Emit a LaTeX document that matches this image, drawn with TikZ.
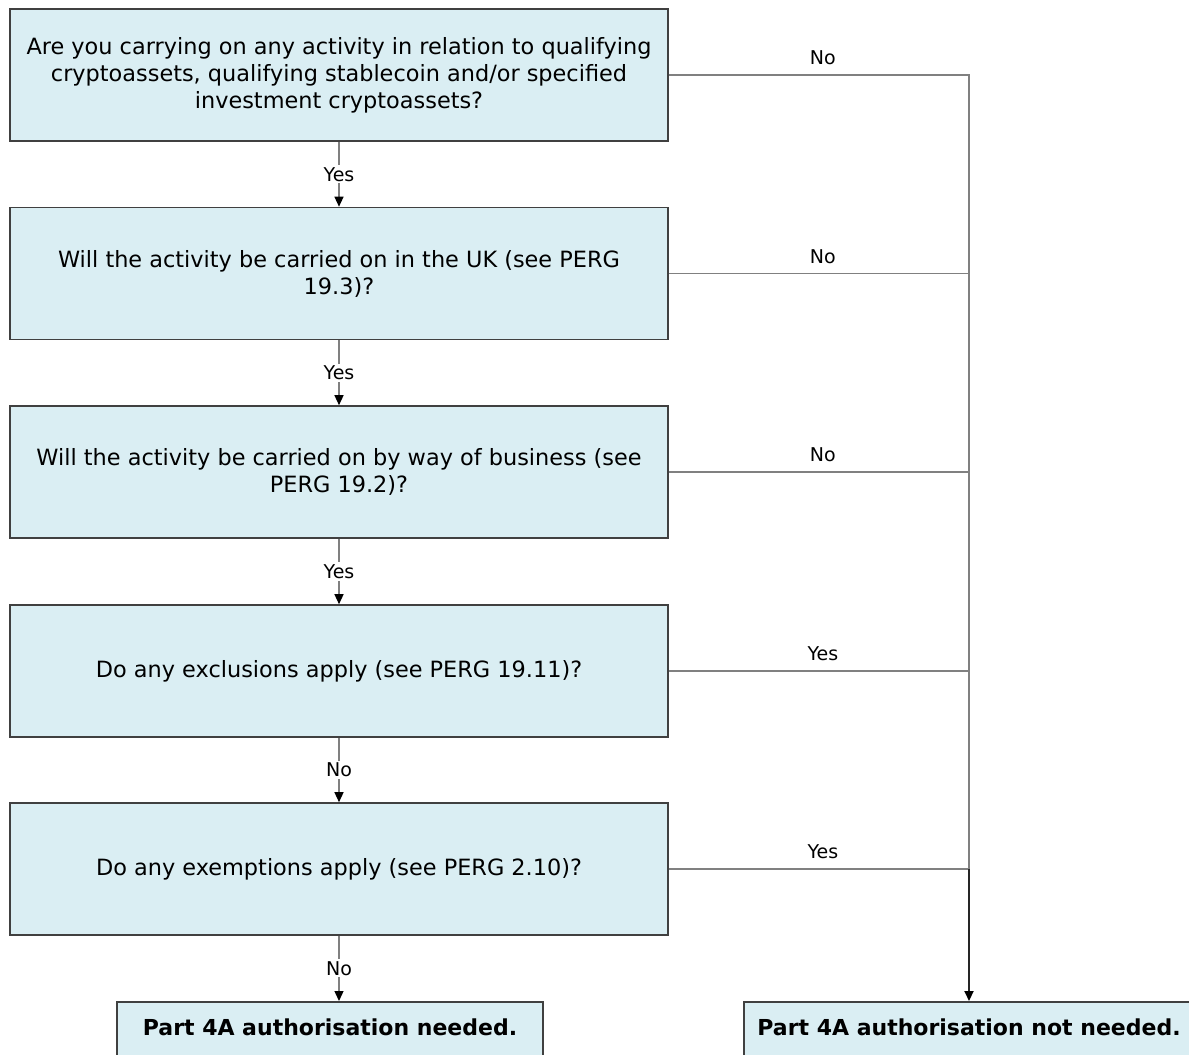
\documentclass[tikz,border=0pt]{standalone}
\usepackage{fontspec}
\setmainfont{DejaVu Sans}
\usetikzlibrary{
    arrows.meta
}
\definecolor{boxfill}{HTML}{DAEEF3}
\definecolor{boxline}{HTML}{404040}
\definecolor{linkgray}{HTML}{808080}

\begin{document}
\begin{tikzpicture}[
        x=1pt, y=-1pt,
        >={Triangle[length=10pt,width=9pt,color=black]},
        question/.style={
            rectangle,
            draw=boxline,
            fill=boxfill,
            line width=1.6pt,
            minimum width=658pt,
            minimum height=132pt,
            align=center,
            font=\fontsize{22.4}{27}\selectfont
        },
        answer/.style={
            rectangle,
            draw=boxline,
            fill=boxfill,
            line width=1.6pt,
            anchor=north,
            inner ysep=9pt,
            text height=25pt,
            text depth=45pt,
            font=\fontsize{22}{27}\selectfont\bfseries
        },
        link/.style={draw=linkgray, line width=1.3pt},
        trunk/.style={draw=black!85, line width=2pt},
        lbl/.style={font=\fontsize{19}{23}\selectfont, fill=white, inner sep=2pt}
    ]
        \path[use as bounding box] (0,0) rectangle (1189,1055);
        \clip (0,0) rectangle (1189,1055);

        % questions
        \node[question] (q1) at (339,75)
            {Are you carrying on any activity in relation to qualifying\\
             cryptoassets, qualifying stablecoin and/or specified\\
             investment cryptoassets?};
        \node[question] (q2) at (339,273.5)
            {Will the activity be carried on in the UK (see PERG\\19.3)?};
        \node[question] (q3) at (339,472)
            {Will the activity be carried on by way of business (see\\PERG 19.2)?};
        \node[question] (q4) at (339,671)
            {Do any exclusions apply (see PERG 19.11)?};
        \node[question] (q5) at (339,869)
            {Do any exemptions apply (see PERG 2.10)?};

        % outcomes
        \node[answer, minimum width=426pt] (needed) at (330,1001)
            {Part 4A authorisation needed.};
        \node[answer, minimum width=450pt] (notneeded) at (969,1001)
            {Part 4A authorisation not needed.};

        % main chain
        \draw[link,->] (q1) -- node[lbl] {Yes} (q2);
        \draw[link,->] (q2) -- node[lbl] {Yes} (q3);
        \draw[link,->] (q3) -- node[lbl] {Yes} (q4);
        \draw[link,->] (q4) -- node[lbl] {No} (q5);
        \draw[link,->] (q5.south) -- node[lbl] {No} (q5.south |- needed.north);

        % exits to the right
        \coordinate (j5) at (notneeded.north |- q5.east);
        \foreach \q/\ans in {q1/No, q2/No, q3/No, q4/Yes, q5/Yes}
            \draw[link] (\q.east) -| node[lbl, above, fill=none, pos=0.25, xshift=4pt, inner sep=9.5pt] {\ans} (j5);
        \draw[trunk,->] (j5) -- (notneeded.north);
\end{tikzpicture}
\end{document}
